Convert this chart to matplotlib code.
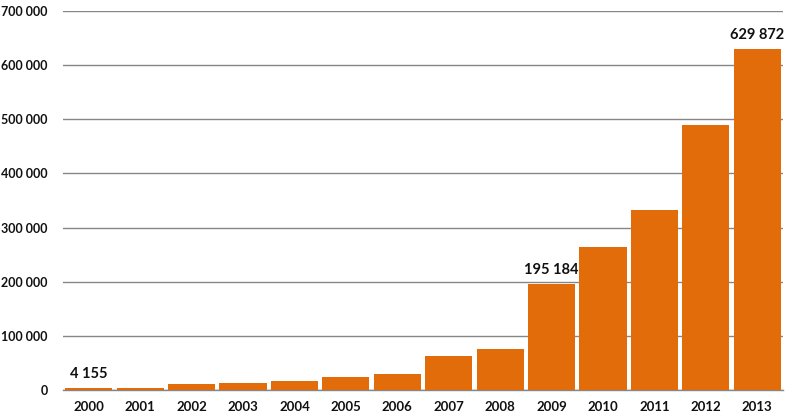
import matplotlib
matplotlib.use("Agg")
import matplotlib.pyplot as plt
from matplotlib import font_manager as fm
from matplotlib.ticker import FuncFormatter

years = ["2000", "2001", "2002", "2003", "2004", "2005", "2006",
         "2007", "2008", "2009", "2010", "2011", "2012", "2013"]
values = [4155, 3700, 11100, 13500, 16600, 24000, 30200,
          62800, 75700, 195184, 264600, 333000, 489000, 629872]
labelled = {0: "4 155", 9: "195 184", 13: "629 872"}
yticks = [0, 100000, 200000, 300000, 400000, 500000, 600000, 700000]


def bold_font(size):
    cands = [f for f in fm.fontManager.ttflist
             if f.name == "Lato" and f.weight == 700 and f.style == "normal"]
    if cands:
        return fm.FontProperties(fname=cands[0].fname, size=size)
    return fm.FontProperties(family="DejaVu Sans", weight="bold", size=size)


xtick_fp = bold_font(9.5)
ytick_fp = bold_font(9.0)
lab_fp = bold_font(10.5)

fig = plt.figure(figsize=(7.96, 4.2), dpi=100)
ax = fig.add_axes([63/796, 1 - 390/420, 720/796, 379/420])

x = list(range(len(years)))
ax.bar(x, values, width=0.915, color="#E36C0A", zorder=3)

for i, txt in labelled.items():
    ax.annotate(txt, (x[i], values[i]), xytext=(0, 5), textcoords="offset points",
                ha="center", va="bottom", fontproperties=lab_fp, color="#111111")

ax.set_xlim(-0.5, len(years) - 0.5)
ax.set_ylim(0, 700000)
ax.set_yticks(yticks)
ax.yaxis.set_major_formatter(FuncFormatter(lambda v, p: f"{int(v):,}".replace(",", " ")))
ax.set_xticks(x)
ax.set_xticklabels(years)
ax.grid(axis="y", color="#868686", linewidth=1.0, zorder=0)
ax.set_axisbelow(True)
for s in ["top", "right", "left"]:
    ax.spines[s].set_visible(False)
ax.spines["bottom"].set_color("#868686")
ax.spines["bottom"].set_linewidth(1.0)
ax.tick_params(axis="both", length=0, colors="#111111")
ax.tick_params(axis="y", pad=11)
ax.tick_params(axis="x", pad=8)
for lab in ax.get_xticklabels():
    lab.set_fontproperties(xtick_fp)
for lab in ax.get_yticklabels():
    lab.set_fontproperties(ytick_fp)

fig.savefig("out.png", dpi=100)
